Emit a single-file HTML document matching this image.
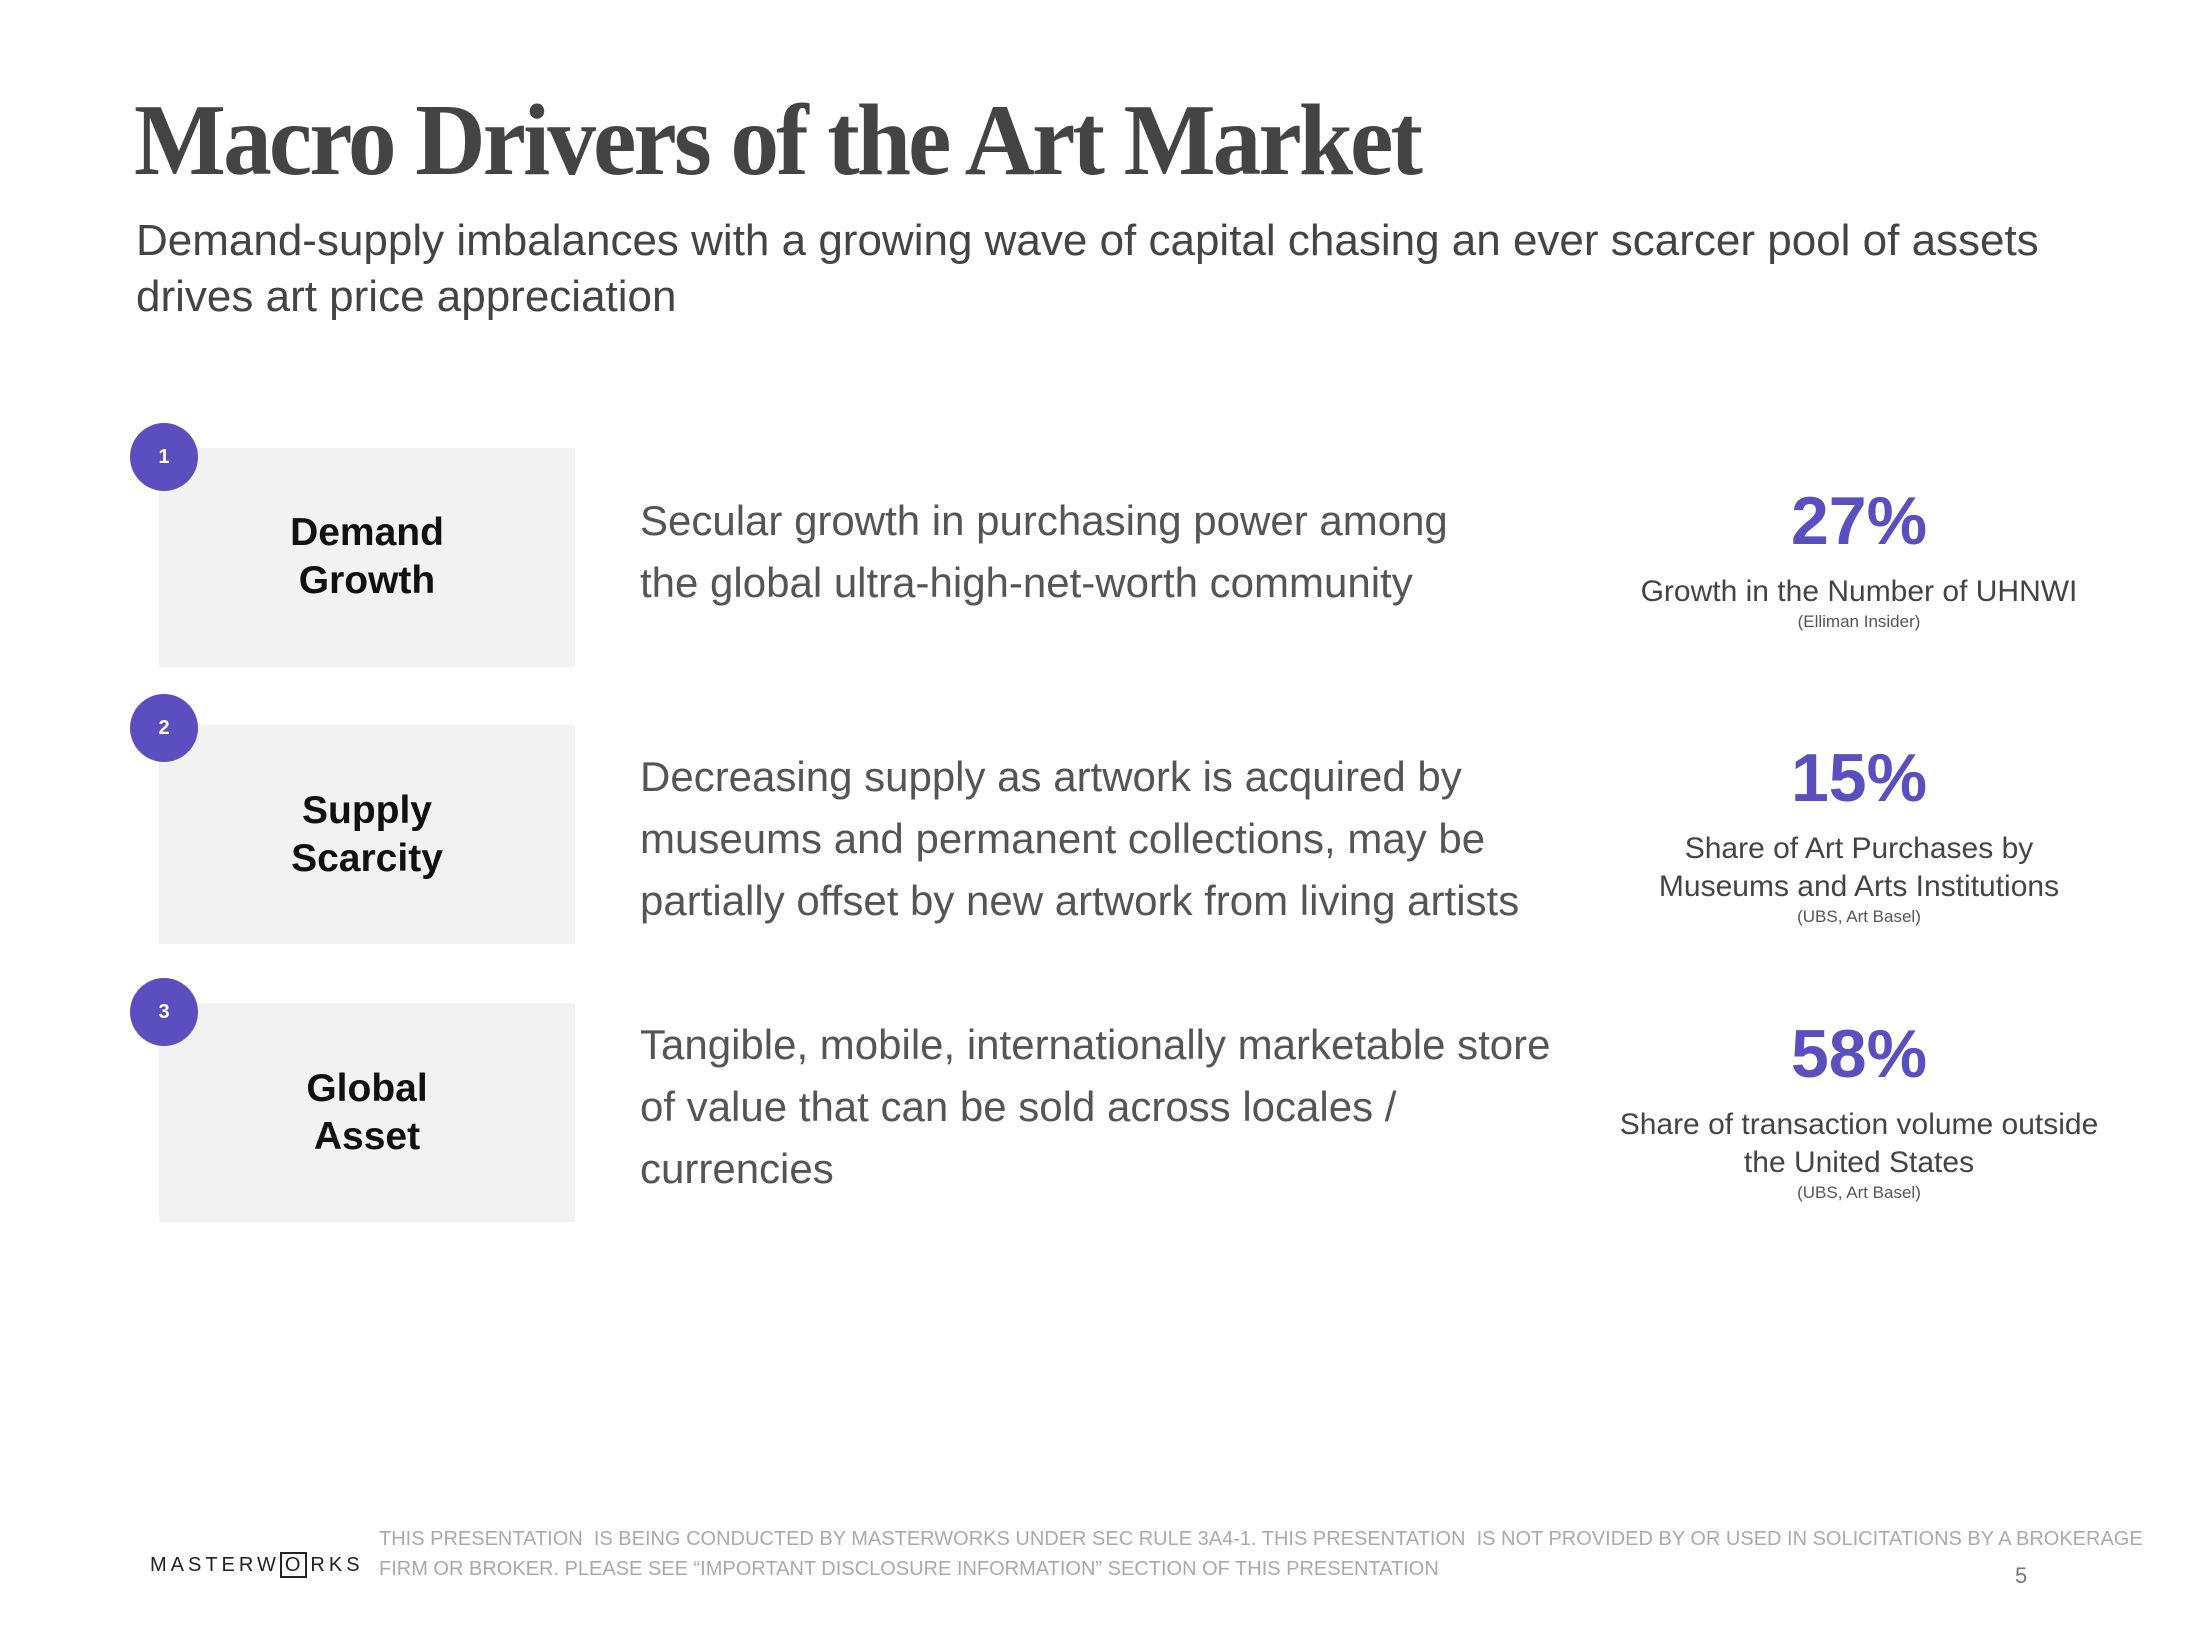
<!DOCTYPE html>
<html><head><meta charset="utf-8"><style>
body{margin:0;width:2192px;height:1648px;background:#fff;position:relative;overflow:hidden;font-family:"Liberation Sans",sans-serif}
.a{position:absolute;white-space:nowrap}
.title{left:134px;top:90px;font-family:"Liberation Serif",serif;font-weight:bold;font-size:102px;line-height:102px;color:#444;letter-spacing:-3px;transform-origin:left top;transform:scaleX(0.955)}
.sub{left:136px;font-size:44px;color:#444;line-height:56px}
.box{position:absolute;left:159px;width:416px;height:219px;background:#f2f2f2}
.circ{position:absolute;width:68px;height:68px;border-radius:50%;background:#5b4fc0;color:#fff;font-weight:bold;font-size:20px;line-height:68px;text-align:center;left:130px}
.lab{position:absolute;left:159px;width:416px;text-align:center;font-weight:bold;font-size:39px;line-height:48px;color:#111}
.desc{left:640px;font-size:42px;line-height:62px;color:#555}
.st{position:absolute;left:1590px;width:538px;text-align:center}
.big{font-weight:bold;font-size:68px;color:#5a4fbf;line-height:80px}
.sl{font-size:30px;color:#444;line-height:38px}
.src{font-size:17px;color:#555;line-height:22px}
.foot{left:379px;font-size:20px;color:#aaa;line-height:30px}
</style></head><body>
<div class="a title">Macro Drivers of the Art Market</div>
<div class="a sub" style="top:213px">Demand-supply imbalances with a growing wave of capital chasing an ever scarcer pool of assets<br>drives art price appreciation</div>

<div class="box" style="top:448px"></div>
<div class="box" style="top:725px"></div>
<div class="box" style="top:1003px"></div>
<div class="circ" style="top:423px">1</div>
<div class="circ" style="top:694px">2</div>
<div class="circ" style="top:978px">3</div>
<div class="lab" style="top:509px">Demand<br>Growth</div>
<div class="lab" style="top:787px">Supply<br>Scarcity</div>
<div class="lab" style="top:1065px">Global<br>Asset</div>

<div class="a desc" style="top:490px">Secular growth in purchasing power among<br>the global ultra-high-net-worth community</div>
<div class="a desc" style="top:746px">Decreasing supply as artwork is acquired by<br>museums and permanent collections, may be<br>partially offset by new artwork from living artists</div>
<div class="a desc" style="top:1014px">Tangible, mobile, internationally marketable store<br>of value that can be sold across locales /<br>currencies</div>

<div class="st" style="top:481px"><div class="big">27%</div><div class="sl" style="margin-top:12px">Growth in the Number of UHNWI</div><div class="src">(Elliman Insider)</div></div>
<div class="st" style="top:738px"><div class="big">15%</div><div class="sl" style="margin-top:12px">Share of Art Purchases by<br>Museums and Arts Institutions</div><div class="src">(UBS, Art Basel)</div></div>
<div class="st" style="top:1014px"><div class="big">58%</div><div class="sl" style="margin-top:12px">Share of transaction volume outside<br>the United States</div><div class="src">(UBS, Art Basel)</div></div>

<div class="a" style="left:150px;top:1551px;font-size:20px;letter-spacing:4px;color:#222;line-height:28px">MASTERW<span style="border:2px solid #222;padding:0 1px 0 3px;margin-right:3px">O</span>RKS</div>
<div class="a foot" style="top:1524px">THIS PRESENTATION&nbsp; IS BEING CONDUCTED BY MASTERWORKS UNDER SEC RULE 3A4-1. THIS PRESENTATION&nbsp; IS NOT PROVIDED BY OR USED IN SOLICITATIONS BY A BROKERAGE<br>FIRM OR BROKER. PLEASE SEE “IMPORTANT DISCLOSURE INFORMATION” SECTION OF THIS PRESENTATION</div>
<div class="a" style="left:2015px;top:1563px;font-size:22px;color:#777">5</div>
</body></html>
